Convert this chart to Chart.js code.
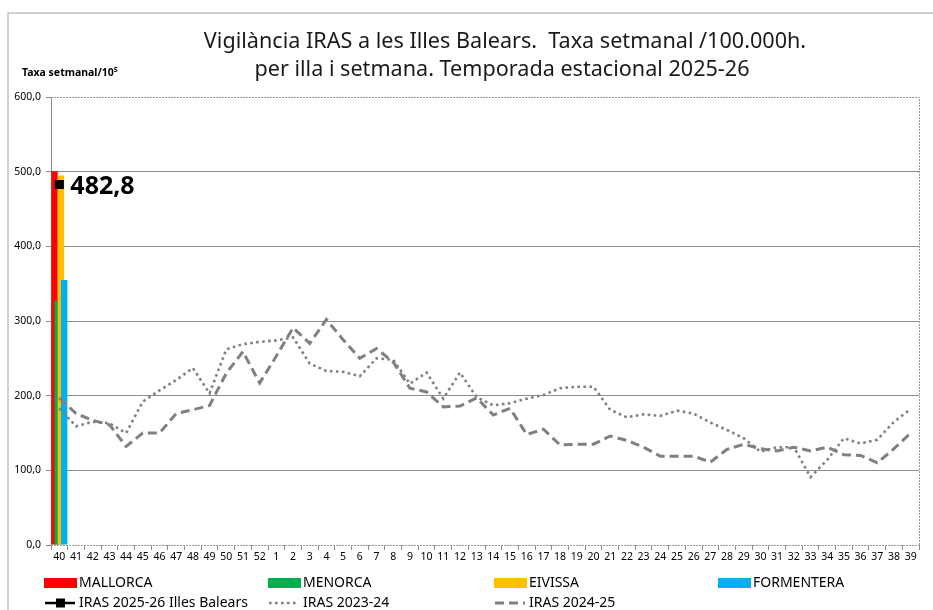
<!DOCTYPE html>
<html>
<head>
<meta charset="utf-8">
<script src="https://cdn.jsdelivr.net/npm/chart.js@4.4.1/dist/chart.umd.min.js"></script>
<style>
html,body{margin:0;padding:0;background:#fff;overflow:hidden}
#wrap{position:relative;width:933px;height:610px}
</style>
</head>
<body>
<div id="wrap"><canvas id="c" width="933" height="610"></canvas></div>
<script>
// ---- data ----
const weeks = ['40','41','42','43','44','45','46','47','48','49','50','51','52',
  '1','2','3','4','5','6','7','8','9','10','11','12','13','14','15','16','17','18','19','20',
  '21','22','23','24','25','26','27','28','29','30','31','32','33','34','35','36','37','38','39'];

const mallorca = [500.5];
const menorca = [327];
const eivissa = [495];
const formentera = [355];
const iras2526 = [482.8];

const iras2324 = [183,159,165,163,150,192,207,221,237,203,262,269,272,274,278,243,233,232,226,250,
  248,216,231,196,231,198,187,190,196,201,210,212,212,181,171,175,173,180,176,164,154,143,125,131,
  131,91,114,143,136,141,165,182];

const iras2425 = [197,176,167,161,132,150,150,176,181,187,230,259,217,253,291,270,302,275,250,263,
  245,210,205,185,186,197,174,183,148,155,134,135,135,146,140,131,119,119,119,111,128,135,129,126,
  131,126,131,121,120,110,129,150];

const yTicks = [0,100,200,300,400,500,600];

const titleLines = ['Vigilància IRAS a les Illes Balears.  Taxa setmanal /100.000h.',
  'per illa i setmana. Temporada estacional 2025-26'];
const yTitle = 'Taxa setmanal/10\u2075';

// ---- styles ----
const FONT = "'Noto Sans', sans-serif";
const GRID = '#8c8c8c';
const LINEGRAY = '#808080';
const fmt = v => v.toFixed(1).replace('.', ',');

// legend layout (positions only)
const legendSlots = [
  {ds:0, x:44, y:583}, {ds:1, x:268, y:583}, {ds:2, x:494, y:583}, {ds:3, x:718, y:583},
  {ds:4, x:44, y:603}, {ds:5, x:268, y:603}, {ds:6, x:494, y:603}
];

const decor = {
  id: 'decor',
  beforeDraw(chart) {
    const ctx = chart.ctx;
    ctx.save();
    ctx.fillStyle = '#fff';
    ctx.fillRect(0, 0, chart.width, chart.height);
    // outer frame
    ctx.strokeStyle = '#c4c4c4';
    ctx.lineWidth = 1.5;
    ctx.beginPath();
    ctx.moveTo(8, chart.height + 10);
    ctx.lineTo(8, 13);
    ctx.lineTo(chart.width + 10, 13);
    ctx.stroke();
    // title
    ctx.fillStyle = '#1a1a1a';
    ctx.font = '21.6px ' + FONT;
    ctx.textAlign = 'center';
    ctx.textBaseline = 'middle';
    ctx.fillText(titleLines[0], 505, 42);
    ctx.fillText(titleLines[1], 502, 70);
    // y axis title
    ctx.font = 'bold 10.5px ' + FONT;
    ctx.textAlign = 'left';
    ctx.fillStyle = '#000';
    ctx.fillText(yTitle, 22, 73);
    ctx.restore();
  },
  beforeDatasetsDraw(chart) {
    const {ctx, chartArea: a} = chart;
    ctx.save();
    ctx.strokeStyle = '#9a9a9a';
    ctx.lineWidth = 1;
    ctx.setLineDash([2, 1]);
    ctx.beginPath();
    ctx.moveTo(a.left, a.top + 0.5);
    ctx.lineTo(a.right + 0.5, a.top + 0.5);
    ctx.lineTo(a.right + 0.5, a.bottom);
    ctx.stroke();
    ctx.beginPath();
    ctx.moveTo(a.left, a.bottom + 0.5);
    ctx.lineTo(a.right, a.bottom + 0.5);
    ctx.stroke();
    ctx.restore();
    // draw bars in Excel order: later series on top
    [0,1,2,3].forEach(i => {
      const meta = chart.getDatasetMeta(i);
      if (!meta.hidden) meta.controller.draw();
    });
  },
  beforeDatasetDraw(chart, args) {
    if (args.meta.type === 'bar') return false;
  },
  afterDraw(chart) {
    const ctx = chart.ctx;
    ctx.save();
    // value label for current season
    const meta = chart.getDatasetMeta(4);
    const pt = meta.data[0];
    if (pt) {
      ctx.font = 'bold 25px ' + FONT;
      ctx.fillStyle = '#000';
      ctx.textAlign = 'left';
      ctx.textBaseline = 'middle';
      ctx.fillText(fmt(chart.data.datasets[4].data[0]), pt.x + 11, pt.y + 2);
    }
    // legend
    ctx.font = '14px ' + FONT;
    ctx.textBaseline = 'middle';
    ctx.textAlign = 'left';
    legendSlots.forEach(s => {
      const d = chart.data.datasets[s.ds];
      if (d.type === 'line') {
        ctx.save();
        ctx.strokeStyle = d.borderColor;
        ctx.lineWidth = d.borderWidth;
        ctx.setLineDash(d.borderDash || []);
        ctx.beginPath();
        ctx.moveTo(s.x + 1, s.y);
        ctx.lineTo(s.x + 31, s.y);
        ctx.stroke();
        ctx.restore();
        if (d.pointStyle === 'rect') {
          ctx.fillStyle = d.pointBackgroundColor;
          ctx.fillRect(s.x + 12, s.y - 4.5, 9, 9);
        }
        ctx.fillStyle = '#000';
        ctx.fillText(d.label, s.x + 35, s.y);
      } else {
        ctx.fillStyle = d.backgroundColor;
        ctx.fillRect(s.x, s.y - 5, 33, 10);
        ctx.fillStyle = '#000';
        ctx.fillText(d.label, s.x + 35, s.y);
      }
    });
    ctx.restore();
  }
};

const barCommon = {type: 'bar', barPercentage: 2.0, categoryPercentage: 0.77, borderWidth: 0};

new Chart(document.getElementById('c'), {
  type: 'bar',
  data: {
    labels: weeks,
    datasets: [
      Object.assign({label: 'MALLORCA', data: mallorca, backgroundColor: '#FF0000'}, barCommon),
      Object.assign({label: 'MENORCA', data: menorca, backgroundColor: '#00B050'}, barCommon),
      Object.assign({label: 'EIVISSA', data: eivissa, backgroundColor: '#FFC000'}, barCommon),
      Object.assign({label: 'FORMENTERA', data: formentera, backgroundColor: '#00B0F0'}, barCommon),
      {type: 'line', label: 'IRAS 2025-26 Illes Balears', data: iras2526, borderColor: '#000',
        backgroundColor: '#000', borderWidth: 2.5, pointStyle: 'rect', pointRadius: 6.4,
        pointBackgroundColor: '#000', pointBorderWidth: 0},
      {type: 'line', label: 'IRAS 2023-24', data: iras2324, borderColor: LINEGRAY,
        borderWidth: 2.6, borderDash: [2.6, 3.4], pointRadius: 0, tension: 0, fill: false},
      {type: 'line', label: 'IRAS 2024-25', data: iras2425, borderColor: LINEGRAY,
        borderWidth: 3, borderDash: [9, 5], pointRadius: 0, tension: 0, fill: false}
    ]
  },
  options: {
    responsive: false,
    devicePixelRatio: 1,
    animation: false,
    layout: {padding: {left: 8, right: 14, top: 97, bottom: 45}},
    plugins: {legend: {display: false}, title: {display: false}, tooltip: {enabled: false}},
    font: {family: FONT},
    scales: {
      x: {
        offset: true,
        grid: {offset: true, drawOnChartArea: false, drawTicks: true, tickLength: 5, tickColor: GRID},
        border: {display: false},
        ticks: {autoSkip: false, maxRotation: 0, minRotation: 0, padding: 1, color: '#000',
          font: {family: FONT, size: 10.5}},
        afterFit: s => { s.height = 20; }
      },
      y: {
        min: 0, max: 600,
        afterBuildTicks: s => { s.ticks = yTicks.map(v => ({value: v})); },
        grid: {color: c => (c.tick && (c.tick.value === 0 || c.tick.value === 600)) ? 'rgba(0,0,0,0)' : GRID,
          tickColor: GRID, tickLength: 5, lineWidth: 1},
        border: {display: true, color: GRID, width: 1},
        ticks: {padding: 5, color: '#000', font: {family: FONT, size: 10.5}, callback: v => fmt(v)},
        afterFit: s => { s.width = 43; }
      }
    }
  },
  plugins: [decor]
});
</script>
</body>
</html>
